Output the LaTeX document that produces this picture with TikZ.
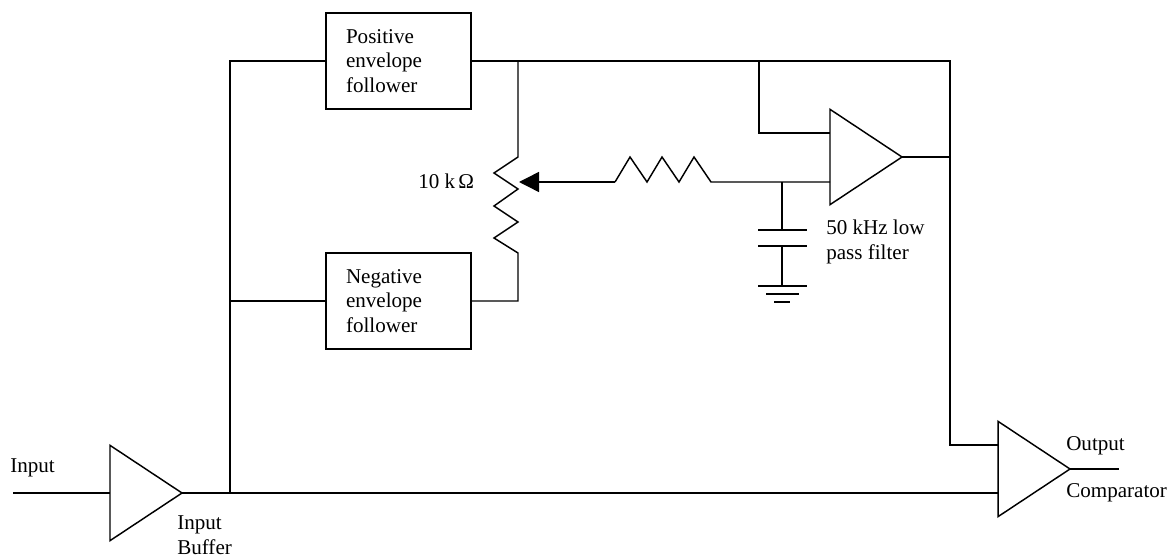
\documentclass[tikz,border=0pt]{standalone}
\usepackage{fontspec}
\setmainfont{Liberation Serif}
\usetikzlibrary{arrows.meta}
\usetikzlibrary{shapes.geometric}

\begin{document}
\begin{tikzpicture}[
  x=0.75pt,
  y=-0.75pt,
]

  \tikzstyle{every node}=[font=\fontsize{15.8}{18.5}\selectfont]
  \tikzstyle{envbox}=[draw,rectangle,line width=1.1pt,minimum height=72pt,text width=78.75pt,inner xsep=15pt,inner ysep=0pt,outer sep=0pt,align=left]
  \tikzstyle{ampnode}=[draw,isosceles triangle,isosceles triangle apex angle=66,isosceles triangle stretches,line width=1.1pt,minimum height=54pt,minimum width=71.5pt,inner sep=0pt,outer sep=0pt,anchor=lower side]
  \tikzstyle{txtnode}=[anchor=west,align=left,inner sep=0pt]
  \tikzstyle{wire}=[draw,line width=1.1pt,line join=miter]
  \tikzstyle{wiper}=[draw,line width=1.1pt,{Triangle[length=15pt,width=15pt]}-]

  \useasboundingbox (0,0) rectangle (1169,555);

  % nodes
  \node[envbox] (posenv) at (398.5,61) {Positive\\envelope\\follower};
  \node[envbox] (negenv) at (398.5,301) {Negative\\envelope\\follower};

  \node[ampnode] (inbuf) at (110,493) {};
  \node[ampnode] (filtamp) at (830,157) {};
  \node[ampnode] (comp) at (998,469) {};

  \node[txtnode] (inlab) at (10,468) {Input};
  \node[txtnode] (buflab) at (177,535.5) {Input\\Buffer};
  \node[txtnode] (outlab) at (1066,446) {Output};
  \node[txtnode] (complab) at (1066,493) {Comparator};
  \node[txtnode] (potlab) at (418,181) {10 k$\,$Ω};
  \node[txtnode] (filtlab) at (826,242) {50 kHz low\\pass filter};

  \coordinate (instart) at (13,493);
  \coordinate (outend) at (1119,469);
  \coordinate (busbot) at (230,493);
  \coordinate (bustop) at (230,61);
  \coordinate (busneg) at (230,301);
  \coordinate (comptop) at (998,445);
  \coordinate (compbot) at (998,493);
  \coordinate (pottop) at (518,61);
  \coordinate (potup) at (518,157);
  \coordinate (potdown) at (518,253);
  \coordinate (potend) at (518,301);
  \coordinate (wipertip) at (519,182);
  \coordinate (resleft) at (615,182);
  \coordinate (resright) at (711,182);
  \coordinate (ampinlow) at (830,182);
  \coordinate (ampinhigh) at (830,133);
  \coordinate (fbtop) at (759,61);
  \coordinate (fbbot) at (759,133);
  \coordinate (captap) at (782,182);
  \coordinate (capup) at (782,230);
  \coordinate (capdown) at (782,246);
  \coordinate (gnd) at (782,286);
  \coordinate (sumtop) at (950,61);
  \coordinate (sumout) at (950,157);
  \coordinate (sumbot) at (950,445);

  % wires
  \draw[wire] (instart) -- (inbuf.lower side);
  \draw[wire] (inbuf.apex) -- (compbot);
  \draw[wire] (busbot) -- (bustop) -- (posenv.west);
  \draw[wire] (busneg) -- (negenv.west);
  \draw[wire] (posenv.east) -- (sumtop) -- (sumbot) -- (comptop);
  \draw[wire] (comp.apex) -- (outend);

  \draw[wire] (pottop) -- (potup) -- ++(-24,16) -- ++(24,16) -- ++(-24,17) -- ++(24,16) -- ++(-24,16) -- (potdown) -- (potend) -- (negenv.east);
  \draw[wiper] (wipertip) -- (resleft);
  \draw[wire] (resleft) -- ++(15,-25) -- ++(17,25) -- ++(15,-25) -- ++(17,25) -- ++(15,-25) -- (resright) -- (ampinlow);

  \draw[wire] (fbtop) -- (fbbot) -- (ampinhigh);
  \draw[wire] (filtamp.apex) -- (sumout);

  % filter capacitor and ground
  \draw[wire] (captap) -- (capup);
  \draw[wire] (758,230) -- (807,230);
  \draw[wire] (758,246) -- (807,246);
  \draw[wire] (capdown) -- (gnd);
  \draw[wire] (758,286) -- (807,286);
  \draw[wire] (766,294) -- (799,294);
  \draw[wire] (774,302) -- (790,302);

\end{tikzpicture}
\end{document}
